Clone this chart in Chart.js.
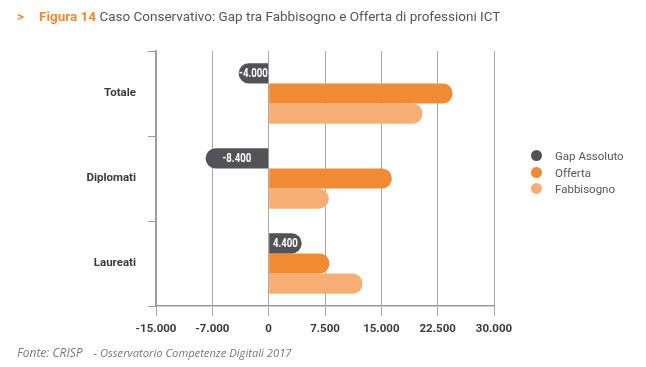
<!DOCTYPE html>
<html>
<head>
<meta charset="utf-8">
<script src="https://cdn.jsdelivr.net/npm/chart.js@4"></script>
<style>
  html, body { margin: 0; padding: 0; background: #fff; }
  #wrap { position: relative; width: 646px; height: 367px; overflow: hidden; }
  #chart { position: absolute; left: 0; top: 0; }
  .title { position: absolute; left: 17px; top: 8px; font-family: Roboto, sans-serif; font-size: 13.5px; color: #555; white-space: nowrap; }
  .title .arrow { color: #f08a33; font-weight: bold; margin-right: 15px; }
  .title .fig { color: #f08a33; font-weight: bold; }
  .source { position: absolute; left: 17px; top: 340px; font-family: "Open Sans", sans-serif; font-style: italic; color: #777; white-space: nowrap; }
  .source .a { font-size: 12px; }
  .source .b { font-size: 11.2px; margin-left: 11px; }
  #legend { position: absolute; left: 531px; top: 148px; font-family: Roboto, sans-serif; font-size: 11.5px; color: #555; }
  #legend div { height: 16.5px; line-height: 16px; white-space: nowrap; }
  #legend span { display: inline-block; width: 11px; height: 11px; border-radius: 50%; vertical-align: -1px; margin-right: 13px; }
</style>
</head>
<body>
<div id="wrap">
  <canvas id="chart" width="646" height="367"></canvas>
  <div class="title"><span class="arrow">&gt;</span><span class="fig">Figura 14</span> Caso Conservativo: Gap tra Fabbisogno e Offerta di professioni ICT</div>
  <div id="legend"></div>
  <div class="source"><span class="a">Fonte: CRISP</span><span class="b">- Osservatorio Competenze Digitali 2017</span></div>
</div>
<script>
const categories = ['Totale', 'Diplomati', 'Laureati'];
const seriesNames = ['Gap Assoluto', 'Offerta', 'Fabbisogno'];
const seriesColors = ['#535357', '#f08a33', '#f7ae75'];
const gapValues = [-4000, -8400, 4400];
const offertaValues = [24500, 16400, 8100];
const fabbisognoValues = [20500, 8000, 12500];
const tickValues = [-15000, -7500, 0, 7500, 15000, 22500, 30000];
const tickLabels = ['-15.000', '-7.000', '0', '7.500', '15.000', '22.500', '30.000'];

// etichette bianche dentro le barre del gap (testo un po' stretto come nell'originale)
const gapLabels = {
    id: 'gapLabels',
    afterDatasetsDraw(chart) {
        const ctx = chart.ctx;
        const meta = chart.getDatasetMeta(0);
        const sx = 0.8;
        meta.data.forEach(function (bar, i) {
            const v = gapValues[i];
            const txt = (v < 0 ? '-' : '') + Math.abs(v).toLocaleString('it-IT');
            ctx.save();
            ctx.fillStyle = '#ffffff';
            ctx.font = 'bold 12px Roboto';
            ctx.textAlign = 'center';
            ctx.textBaseline = 'middle';
            ctx.translate((bar.x + bar.base) / 2, bar.y + 1);
            ctx.scale(sx, 1);
            ctx.fillText(txt, 0, 0);
            ctx.restore();
        });
    }
};

const chart = new Chart(document.getElementById('chart'), {
    type: 'bar',
    data: {
        labels: categories,
        datasets: [
            { label: seriesNames[0], data: gapValues, backgroundColor: seriesColors[0] },
            { label: seriesNames[1], data: offertaValues, backgroundColor: seriesColors[1] },
            { label: seriesNames[2], data: fabbisognoValues, backgroundColor: seriesColors[2] }
        ]
    },
    options: {
        indexAxis: 'y',
        responsive: false,
        animation: false,
        layout: { padding: { top: 51, bottom: 31, left: 0, right: 152 } },
        datasets: {
            bar: { categoryPercentage: 0.71, barPercentage: 1, borderRadius: 10, borderSkipped: 'start' }
        },
        scales: {
            x: {
                min: -15000,
                max: 30000,
                afterBuildTicks(scale) {
                    scale.ticks = tickValues.map(v => ({ value: v }));
                },
                afterFit(scale) { scale.height = 30; },
                grid: { color: '#a8a8a8', lineWidth: 1, tickLength: 10, drawTicks: true },
                border: { color: '#999', width: 1.5 },
                ticks: {
                    color: '#3a3a3a',
                    font: { family: 'Roboto', size: 11.5, weight: 'bold' },
                    padding: 6,
                    callback: function (v, i) { return tickLabels[i]; }
                }
            },
            y: {
                afterFit(scale) { scale.width = 156; },
                grid: { offset: true, drawOnChartArea: false, tickLength: 8, color: '#999' },
                border: { color: '#999', width: 1.5 },
                ticks: {
                    color: '#3a3a3a',
                    font: { family: 'Roboto', size: 11.5, weight: 'bold' },
                    padding: 12
                }
            }
        },
        plugins: {
            legend: { display: false },
            tooltip: { enabled: false }
        }
    },
    plugins: [gapLabels]
});

// legenda html costruita dai dataset
const legendEl = document.getElementById('legend');
chart.data.datasets.forEach(function (ds) {
    const row = document.createElement('div');
    const dot = document.createElement('span');
    dot.style.background = ds.backgroundColor;
    row.appendChild(dot);
    row.appendChild(document.createTextNode(ds.label));
    legendEl.appendChild(row);
});
</script>
</body>
</html>
